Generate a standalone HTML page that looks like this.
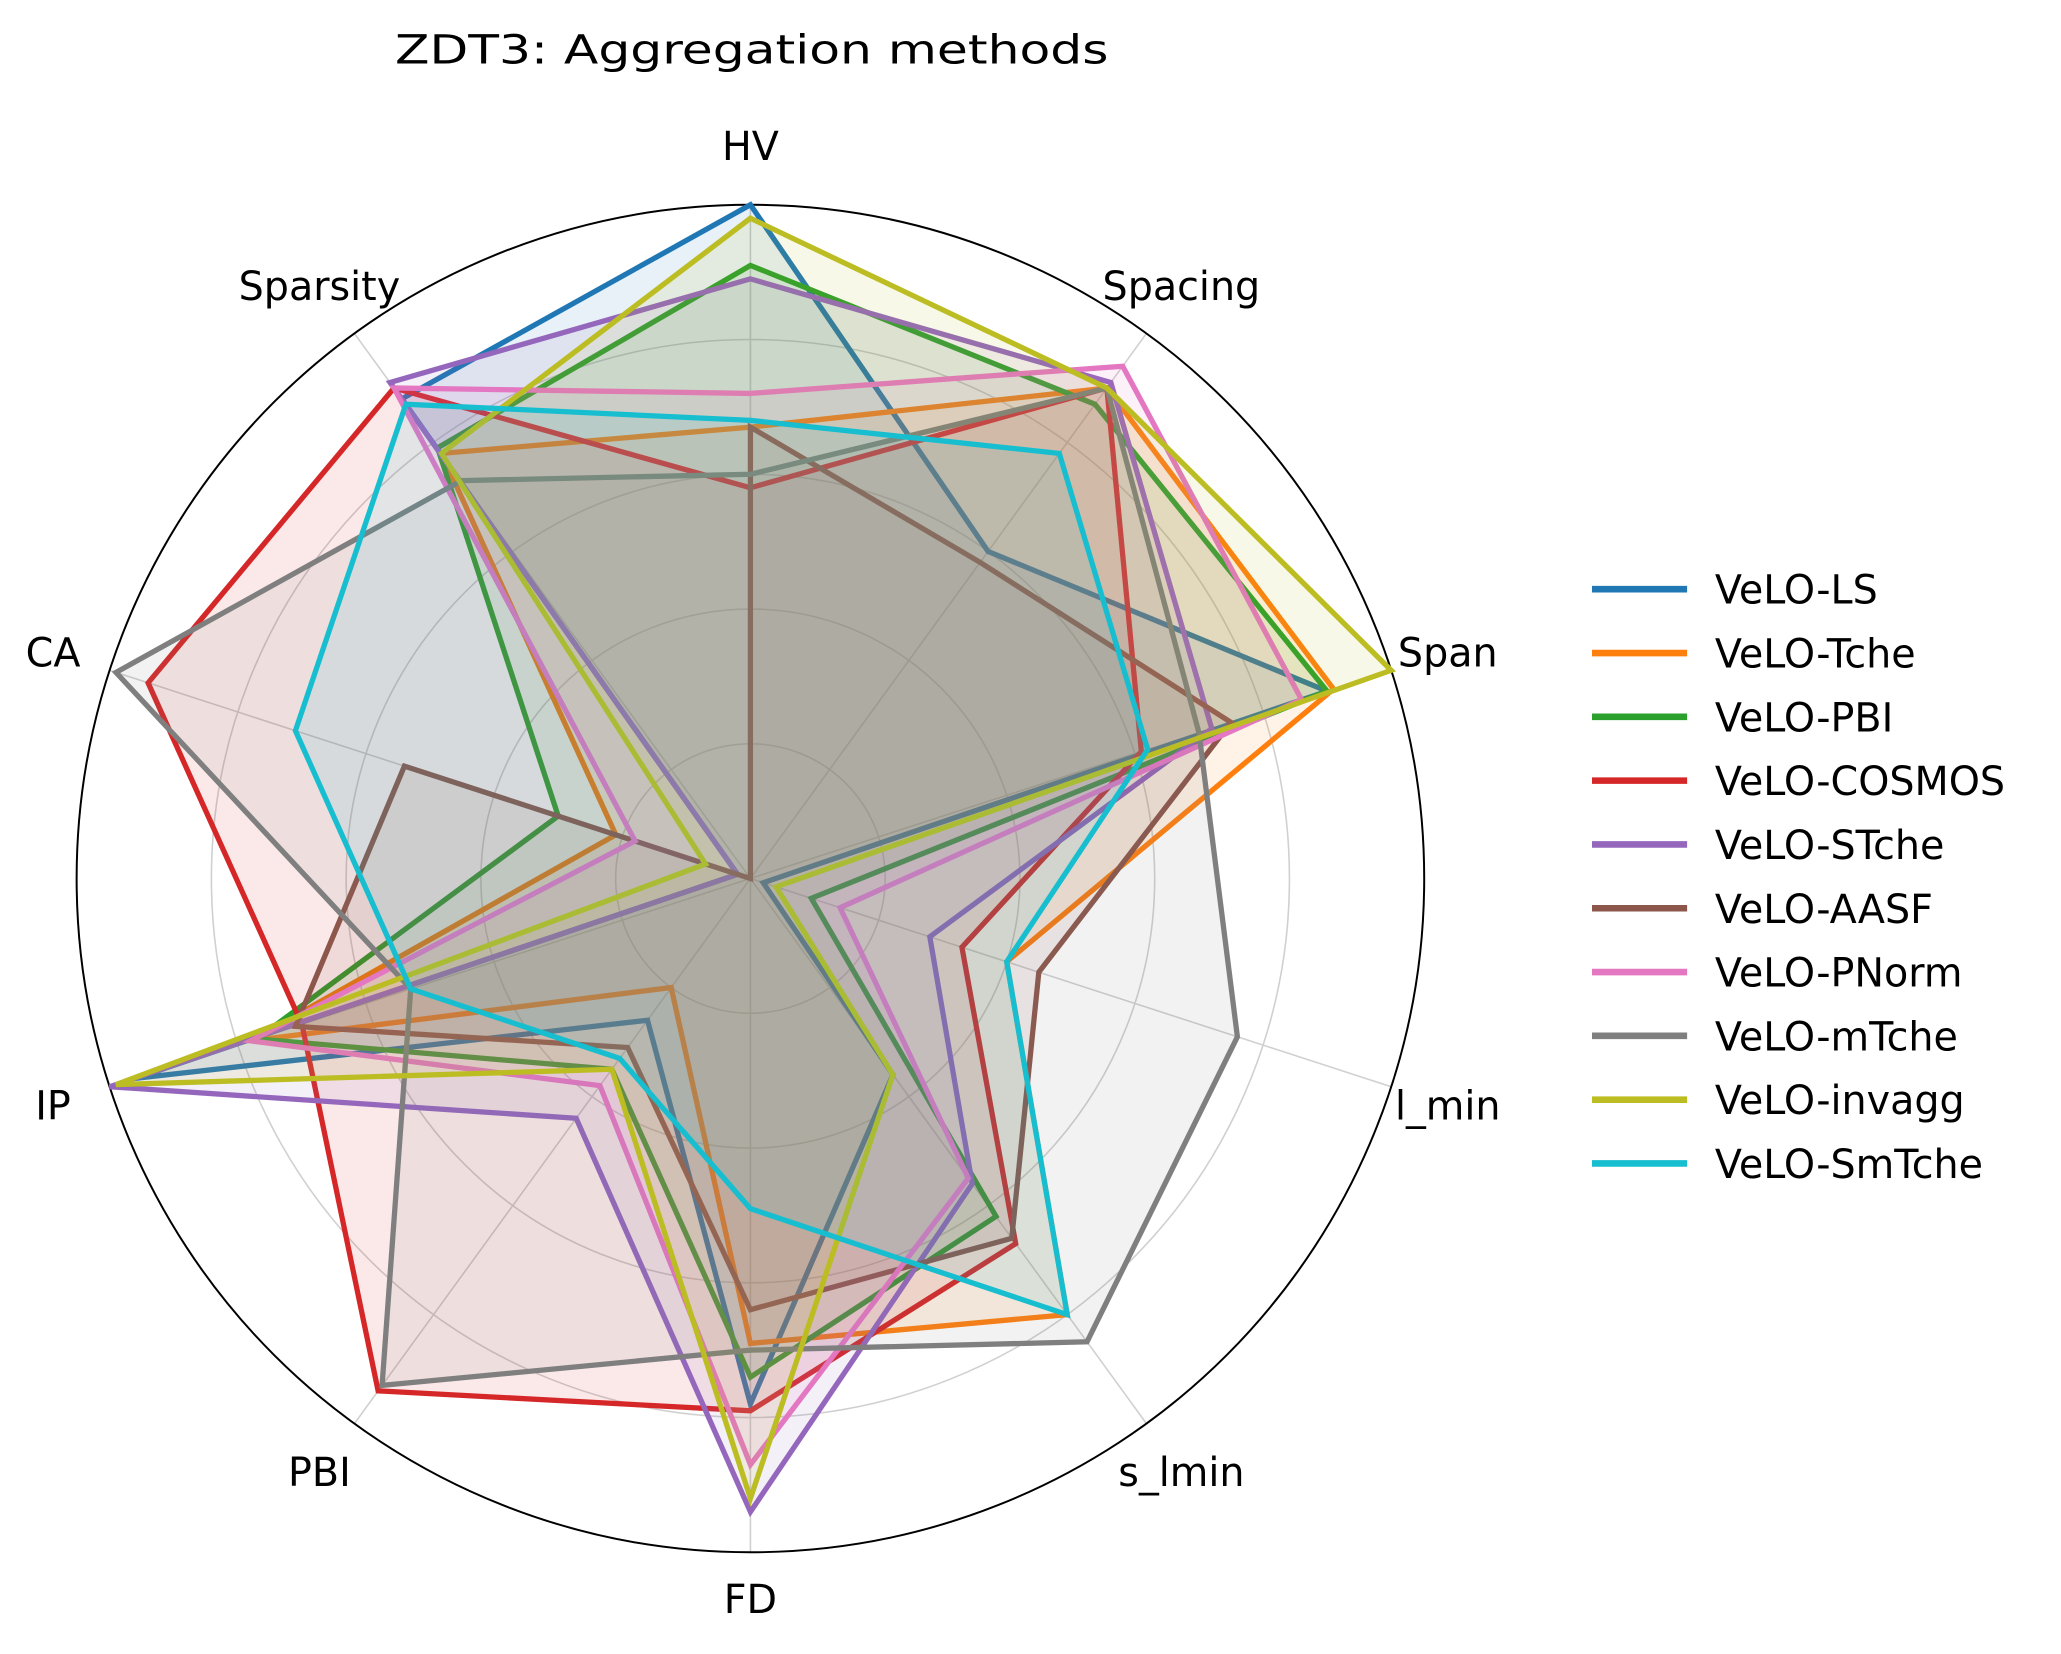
<!DOCTYPE html>
<html><head><meta charset="utf-8"><style>
html,body{margin:0;padding:0;background:#fff;}
svg{display:block;font-family:"DejaVu Sans","Liberation Sans",sans-serif;}
</style></head><body>
<svg id="chart" width="2061" height="1654" viewBox="0 0 1560 1252" preserveAspectRatio="none" xmlns="http://www.w3.org/2000/svg">
<text x="569" y="48" font-size="30" text-anchor="middle" textLength="540" lengthAdjust="spacingAndGlyphs">ZDT3: Aggregation methods</text>
<g id="grid"></g><g id="series"></g><g id="labels"></g><g id="legend"></g>
</svg>
<script>
const axes = ["HV","Spacing","Span","l_min","s_lmin","FD","PBI","IP","CA","Sparsity"];
const seriesNames = ["VeLO-LS","VeLO-Tche","VeLO-PBI","VeLO-COSMOS","VeLO-STche","VeLO-AASF","VeLO-PNorm","VeLO-mTche","VeLO-invagg","VeLO-SmTche"];
const valsLS     = [1.00,0.60,0.90,0.02,0.36,0.78,0.26,0.96,0.02,0.88];
const valsTche   = [0.67,0.90,0.91,0.40,0.80,0.69,0.20,0.78,0.21,0.78];
const valsPBI    = [0.91,0.87,0.90,0.095,0.62,0.74,0.35,0.77,0.30,0.79];
const valsCOSMOS = [0.58,0.90,0.61,0.33,0.67,0.79,0.94,0.70,0.94,0.90];
const valsSTche  = [0.89,0.91,0.72,0.28,0.56,0.94,0.44,1.00,0.02,0.91];
const valsAASF   = [0.67,0.58,0.75,0.45,0.66,0.64,0.31,0.71,0.54,0.00];
const valsPNorm  = [0.72,0.94,0.86,0.14,0.55,0.87,0.38,0.78,0.18,0.90];
const valsmTche  = [0.60,0.90,0.70,0.76,0.85,0.70,0.93,0.53,0.99,0.73];
const valsInvagg = [0.98,0.90,1.00,0.04,0.36,0.92,0.35,0.99,0.07,0.78];
const valsSmTche = [0.68,0.78,0.62,0.40,0.80,0.49,0.33,0.53,0.71,0.87];
const allVals = [valsLS,valsTche,valsPBI,valsCOSMOS,valsSTche,valsAASF,valsPNorm,valsmTche,valsInvagg,valsSmTche];
const colors = ["#1f77b4","#ff7f0e","#2ca02c","#d62728","#9467bd","#8c564b","#e377c2","#7f7f7f","#bcbd22","#17becf"];
const gridLevels = [0.2,0.4,0.6,0.8];
const NS="http://www.w3.org/2000/svg";
const cx=568, cy=665, R=510;
function ang(i){return (90 - i*36)*Math.PI/180;}
function pt(i,v){return [cx+R*v*Math.cos(ang(i)), cy-R*v*Math.sin(ang(i))];}
function mk(tag,attrs,parent){const e=document.createElementNS(NS,tag);for(const k in attrs)e.setAttribute(k,attrs[k]);parent.appendChild(e);return e;}
const grid=document.getElementById('grid');
gridLevels.forEach((g,k)=>{
  const c=mk('circle',{cx:cx,cy:cy,r:R*g,fill:'none',stroke:'#d0d0d0','stroke-width':1.2},grid);
  
  
});
axes.forEach((a,i)=>{
  const p=pt(i,1);
  const l=mk('line',{x1:cx,y1:cy,x2:p[0],y2:p[1],stroke:'#d0d0d0','stroke-width':1.2},grid);
  
  
});
const oc=mk('circle',{cx:cx,cy:cy,r:R,fill:'none',stroke:'#000','stroke-width':1.5},grid);


const sg=document.getElementById('series');
allVals.forEach((vals,s)=>{
  const pts=vals.map((v,i)=>pt(i,v).map(n=>n.toFixed(1)).join(',')).join(' ');
  const f=mk('polygon',{points:pts,fill:colors[s],'fill-opacity':0.1,stroke:'none'},sg);
  
  
  const l=mk('polygon',{points:pts,fill:'none',stroke:colors[s],'stroke-width':4,'stroke-linejoin':'miter'},sg);
  
  
});
const lg=document.getElementById('labels');
axes.forEach((a,i)=>{
  const rr = (i===5) ? 545 : 555;
  const p=[cx+rr*Math.cos(ang(i)), cy-rr*Math.sin(ang(i))];
  const t=mk('text',{x:p[0],y:p[1]+11,'font-size':30,'text-anchor':'middle',fill:'#000'},lg);
  t.textContent=a;
  
  
});
const leg=document.getElementById('legend');
seriesNames.forEach((n,s)=>{
  const y=446+s*48.3;
  const l=mk('line',{x1:1205,y1:y,x2:1277,y2:y,stroke:colors[s],'stroke-width':5},leg);
  
  
  const t=mk('text',{x:1298,y:y+11,'font-size':30,fill:'#000'},leg);
  t.textContent=n;
  
  
});
</script>
</body></html>
